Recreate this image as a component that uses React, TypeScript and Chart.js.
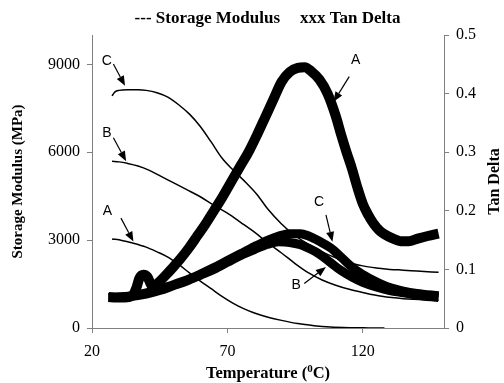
import React, { useEffect, useRef } from "react";
import { Chart, registerables } from "chart.js";
Chart.register(...registerables);

// ---- Storage modulus (MPa) ----
const tempModA = [27.4, 31, 35, 40, 44, 48, 52, 56, 60, 64, 68, 72, 76, 80, 85, 90, 96, 102, 108, 115, 122, 128];
const modA = [3041, 2990, 2900, 2760, 2600, 2420, 2170, 1880, 1600, 1340, 1080, 850, 660, 510, 370, 260, 150, 80, 35, 12, 4, 0];

const tempModB = [27.4, 30, 33, 37, 41, 45, 50, 55, 60, 65, 70, 75, 80, 85, 90, 95, 100, 105, 110, 115, 120, 127, 135, 148];
const modB = [5692, 5670, 5620, 5530, 5390, 5200, 4960, 4720, 4480, 4190, 3920, 3600, 3270, 2900, 2560, 2200, 1880, 1640, 1460, 1320, 1210, 1080, 1000, 950];

const tempModC = [27.4, 28.5, 30, 33, 37, 40, 44, 48, 52, 56, 60, 64, 68, 72, 77, 81, 85, 90, 95, 100, 105, 110, 115, 120, 125, 130, 135, 140, 148];
const modC = [7921, 8060, 8110, 8130, 8130, 8110, 8030, 7880, 7620, 7300, 6880, 6350, 5800, 5400, 4950, 4550, 4050, 3550, 3150, 2850, 2600, 2400, 2230, 2120, 2050, 2000, 1975, 1945, 1900];

// ---- Tan delta ----
const tempTanA = [26.1, 29, 32, 35, 36.5, 37.5, 39, 40.5, 41.5, 42.5, 44, 47, 50, 53, 56, 59, 62, 65, 68, 71, 75, 78, 81, 84, 87, 90, 93, 96, 98.5, 101, 104, 107, 110, 112, 114, 116, 118, 120, 122, 124, 126, 128, 131, 134, 137, 140, 144, 148];
const tanA = [0.053, 0.052, 0.052, 0.056, 0.07, 0.085, 0.091, 0.087, 0.077, 0.069, 0.075, 0.089, 0.104, 0.12, 0.138, 0.158, 0.178, 0.2, 0.222, 0.246, 0.278, 0.302, 0.33, 0.36, 0.39, 0.42, 0.437, 0.444, 0.445, 0.438, 0.424, 0.4, 0.362, 0.33, 0.3, 0.272, 0.24, 0.212, 0.193, 0.178, 0.167, 0.16, 0.153, 0.148, 0.148, 0.152, 0.157, 0.161];

const tempTanBC = [26.1, 30, 35, 40, 45, 50, 55, 60, 65, 70, 75, 80, 85, 89, 93, 97, 100, 104, 108, 112, 116, 120, 125, 130, 135, 140, 148];
const tanB = [0.052, 0.052, 0.054, 0.058, 0.064, 0.072, 0.08, 0.09, 0.1, 0.112, 0.124, 0.134, 0.143, 0.147, 0.146, 0.142, 0.136, 0.126, 0.112, 0.098, 0.087, 0.078, 0.07, 0.064, 0.06, 0.056, 0.052];
const tanC = [0.052, 0.053, 0.055, 0.06, 0.066, 0.074, 0.082, 0.092, 0.103, 0.115, 0.127, 0.139, 0.15, 0.157, 0.161, 0.161, 0.157, 0.148, 0.137, 0.121, 0.104, 0.091, 0.079, 0.069, 0.063, 0.059, 0.055];

// ---- Axis ticks ----
const xTicks = [20, 70, 120];
const yTicks = [0, 3000, 6000, 9000];
const y1Ticks = [0, 0.1, 0.2, 0.3, 0.4, 0.5];

// ---- Annotations: label, axis, label position, arrow start, arrow tip (data units) ----
const notes = [
  { text: "C", axis: "y", lx: 25.5, ly: 9121, ax: 27.9, ay: 9008, tx: 32.2, ty: 8264 },
  { text: "B", axis: "y", lx: 25.5, ly: 6642, ax: 27.9, ay: 6494, tx: 32.6, ty: 5692 },
  { text: "A", axis: "y", lx: 25.7, ly: 3978, ax: 30.7, ay: 3751, tx: 35.3, ty: 2949 },
  { text: "A", axis: "y1", lx: 117.4, ly: 0.4576, ax: 115, ay: 0.429, tx: 109.2, ty: 0.386 },
  { text: "C", axis: "y1", lx: 103.9, ly: 0.215, ax: 106.4, ay: 0.193, tx: 108.8, ty: 0.147 },
  { text: "B", axis: "y1", lx: 95.4, ly: 0.073, ax: 98.4, ay: 0.076, tx: 106.4, ty: 0.104 },
];

const SERIF = "'Liberation Serif', serif";
const SANS = "'Liberation Sans', sans-serif";
Chart.defaults.font.family = SERIF;

const pts = (xs: number[], ys: number[]) => xs.map((x, i) => ({ x, y: ys[i] }));

const decorPlugin = {
  id: "decor",
  afterDatasetsDraw(chart: any) {
    const { ctx, chartArea, scales } = chart;
    ctx.save();
    // annotations
    ctx.fillStyle = "#000";
    ctx.strokeStyle = "#000";
    ctx.font = `14px ${SANS}`;
    ctx.textAlign = "center";
    ctx.textBaseline = "middle";
    for (const n of notes) {
      const ys = scales[n.axis];
      const lx = scales.x.getPixelForValue(n.lx);
      const ly = ys.getPixelForValue(n.ly);
      ctx.fillText(n.text, lx, ly);
      const x0 = scales.x.getPixelForValue(n.ax);
      const y0 = ys.getPixelForValue(n.ay);
      const x1 = scales.x.getPixelForValue(n.tx);
      const y1 = ys.getPixelForValue(n.ty);
      const ang = Math.atan2(y1 - y0, x1 - x0);
      const hl = 10, hw = 4;
      const bx = x1 - hl * Math.cos(ang);
      const by = y1 - hl * Math.sin(ang);
      ctx.lineWidth = 1.2;
      ctx.beginPath();
      ctx.moveTo(x0, y0);
      ctx.lineTo(bx, by);
      ctx.stroke();
      ctx.beginPath();
      ctx.moveTo(x1, y1);
      ctx.lineTo(bx + hw * Math.sin(ang), by - hw * Math.cos(ang));
      ctx.lineTo(bx - hw * Math.sin(ang), by + hw * Math.cos(ang));
      ctx.closePath();
      ctx.fill();
    }
    // titles
    const cx = (chartArea.left + chartArea.right) / 2;
    const cy = (chartArea.top + chartArea.bottom) / 2;
    ctx.font = `bold 17px ${SERIF}`;
    ctx.textBaseline = "middle";
    ctx.textAlign = "right";
    ctx.fillText("--- Storage Modulus", cx + 12, 19);
    ctx.textAlign = "left";
    ctx.fillText("xxx Tan Delta", cx + 32, 19);

    // x title with superscript
    const p1 = "Temperature (";
    const sup = "0";
    const p2 = "C)";
    const big = `bold 16.5px ${SERIF}`;
    const small = `bold 11px ${SERIF}`;
    ctx.font = big;
    const w1 = ctx.measureText(p1).width;
    const w3 = ctx.measureText(p2).width;
    ctx.font = small;
    const w2 = ctx.measureText(sup).width;
    const total = w1 + w2 + w3;
    let sx = cx - total / 2;
    const ty = 374;
    ctx.textAlign = "left";
    ctx.font = big;
    ctx.fillText(p1, sx, ty);
    sx += w1;
    ctx.font = small;
    ctx.fillText(sup, sx, ty - 5);
    sx += w2;
    ctx.font = big;
    ctx.fillText(p2, sx, ty);

    // left y title
    ctx.save();
    ctx.font = `bold 15px ${SERIF}`;
    ctx.translate(18, cy);
    ctx.rotate(-Math.PI / 2);
    ctx.textAlign = "center";
    ctx.fillText("Storage Modulus (MPa)", 0, 0);
    ctx.restore();
    // right y title
    ctx.save();
    ctx.font = `bold 16px ${SERIF}`;
    ctx.translate(495, cy);
    ctx.rotate(-Math.PI / 2);
    ctx.textAlign = "center";
    ctx.fillText("Tan Delta", 0, 0);
    ctx.restore();

    ctx.restore();
  },
};

export default function App() {
  const ref = useRef<HTMLCanvasElement | null>(null);
  useEffect(() => {
    if (!ref.current) return;
    const modStyle = { borderColor: "#000", borderWidth: 1.5, pointRadius: 0, cubicInterpolationMode: "monotone" as const, fill: false, yAxisID: "y" };
    const tanStyle = { borderColor: "#000", pointRadius: 0, cubicInterpolationMode: "monotone" as const, fill: false, yAxisID: "y1", borderJoinStyle: "round" as const };
    const gridCfg = { drawOnChartArea: false, drawTicks: true, tickLength: 5, color: "#808080" };
    const borderCfg = { color: "#808080", width: 1 };
    const tickFont = { family: SERIF, size: 16 };
    const chart = new Chart(ref.current, {
      type: "line",
      data: {
        datasets: [
          { label: "Tan A", data: pts(tempTanA, tanA), borderWidth: 10, ...tanStyle },
          { label: "Tan B", data: pts(tempTanBC, tanB), borderWidth: 9, ...tanStyle },
          { label: "Tan C", data: pts(tempTanBC, tanC), borderWidth: 9, ...tanStyle },
          { label: "Mod A", data: pts(tempModA, modA), ...modStyle },
          { label: "Mod B", data: pts(tempModB, modB), ...modStyle },
          { label: "Mod C", data: pts(tempModC, modC), ...modStyle },
        ],
      },
      options: {
        animation: false,
        responsive: false,
        layout: { padding: { top: 35, left: 0, right: 0, bottom: 0 } },
        plugins: { legend: { display: false }, tooltip: { enabled: false }, title: { display: false } },
        scales: {
          x: {
            type: "linear",
            min: 20,
            max: 150,
            grid: gridCfg,
            border: borderCfg,
            ticks: { font: tickFont, color: "#000", padding: 9, maxRotation: 0, callback: (v: any) => String(v) },
            afterBuildTicks: (s: any) => { s.ticks = xTicks.map((v) => ({ value: v })); },
            afterFit: (s: any) => { s.height = 55; },
          },
          y: {
            type: "linear",
            position: "left",
            min: 0,
            max: 10000,
            grid: gridCfg,
            border: borderCfg,
            ticks: { font: tickFont, color: "#000", padding: 7, callback: (v: any) => String(v) },
            afterBuildTicks: (s: any) => { s.ticks = yTicks.map((v) => ({ value: v })); },
            afterFit: (s: any) => { s.width = 92; },
          },
          y1: {
            type: "linear",
            position: "right",
            min: 0,
            max: 0.5,
            grid: gridCfg,
            border: borderCfg,
            ticks: { font: tickFont, color: "#000", padding: 7, callback: (v: any) => (v === 0 ? "0" : Number(v).toFixed(1)) },
            afterBuildTicks: (s: any) => { s.ticks = y1Ticks.map((v) => ({ value: v })); },
            afterFit: (s: any) => { s.width = 60; },
          },
        },
      },
      plugins: [decorPlugin],
    });
    return () => chart.destroy();
  }, []);
  return (
    <div style={{ position: "absolute", left: 0, top: 0, width: 504, height: 383, background: "#fff" }}>
      <canvas ref={ref} width={504} height={383} style={{ display: "block" }} />
    </div>
  );
}
